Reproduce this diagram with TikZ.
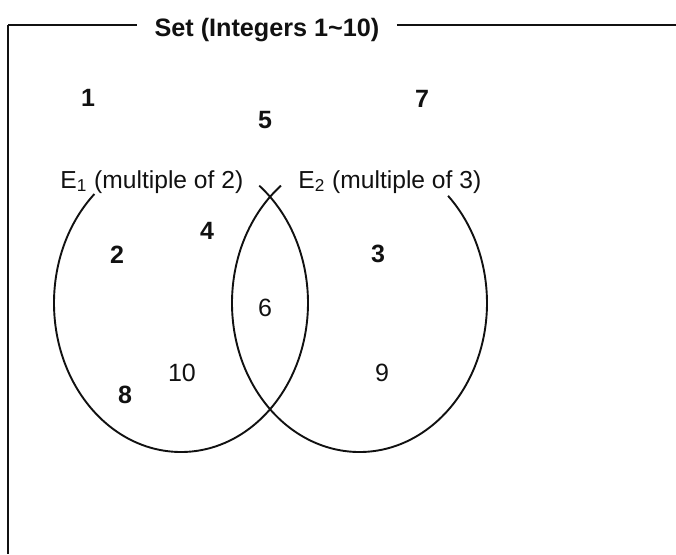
\documentclass[tikz,border=0pt]{standalone}
\usepackage{fontspec}
\setmainfont{Liberation Sans}
\usepackage{tikz}
\usetikzlibrary{calc, positioning}
\definecolor{vink}{HTML}{111111}
\tikzset{
  frameln/.style  = {draw=vink, line width=1.1pt},
  framelft/.style = {draw=vink, line width=1.4pt},
  vennln/.style   = {draw=vink, line width=0.95pt},
  ttl/.style      = {font=\fontsize{12.6}{15}\selectfont\bfseries, text=vink, inner xsep=8.5pt, inner ysep=0pt},
  setlab/.style   = {font=\fontsize{12.3}{15}\selectfont, text=vink, inner sep=0pt},
  numlab/.style   = {font=\fontsize{12.5}{15}\selectfont\bfseries, text=vink, inner sep=0pt},
  numlabthin/.style = {font=\fontsize{12.5}{15}\selectfont, text=vink, inner sep=0pt},
}

\begin{document}
\begin{tikzpicture}[x=0.5pt, y=0.5pt]
  \useasboundingbox (0,0) rectangle (676,-554);
  \coordinate (ftl) at (8,-25);
  \coordinate (ftr) at (676,-25);
  \coordinate (fbl) at (8,-554);
  \coordinate (cA) at (181,-303);
  \coordinate (cB) at (359.5,-303);
  % frame with title in the top line
  \node[ttl, anchor=base] (title) at (267,-36) {Set (Integers 1\textasciitilde10)};
  \draw[frameln] (ftl) -- (title.west |- ftl);
  \draw[frameln] (title.east |- ftr) -- (ftr);
  \draw[framelft] (ftl) -- (fbl);
  % the two sets, open at the top
  \draw[vennln] ($(cA)+(133:127 and 149)$) arc[start angle=133, end angle=412, x radius=127, y radius=149];
  \draw[vennln] ($(cB)+(128:127.5 and 149)$) arc[start angle=128, end angle=406, x radius=127.5, y radius=149];
  \node[setlab, anchor=base west] (labA) at (60,-188) {E\textsubscript{1} (multiple of 2)};
  \node[setlab, anchor=base west] (labB) at (298,-188) {E\textsubscript{2} (multiple of 3)};
  % elements
  \node[numlab] (n1) at (88,-98) {1};
  \node[numlab] (n5) at (265,-120) {5};
  \node[numlab] (n7) at (422,-99) {7};
  \node[numlab] (n4) at (207,-231) {4};
  \node[numlab] (n2) at (117,-255) {2};
  \node[numlab] (n3) at (378,-254) {3};
  \node[numlabthin] (n6) at (265,-308) {6};
  \node[numlabthin] (n10) at (182,-373) {10};
  \node[numlab] (n8) at (125,-395) {8};
  \node[numlabthin] (n9) at (382,-373) {9};
\end{tikzpicture}
\end{document}
